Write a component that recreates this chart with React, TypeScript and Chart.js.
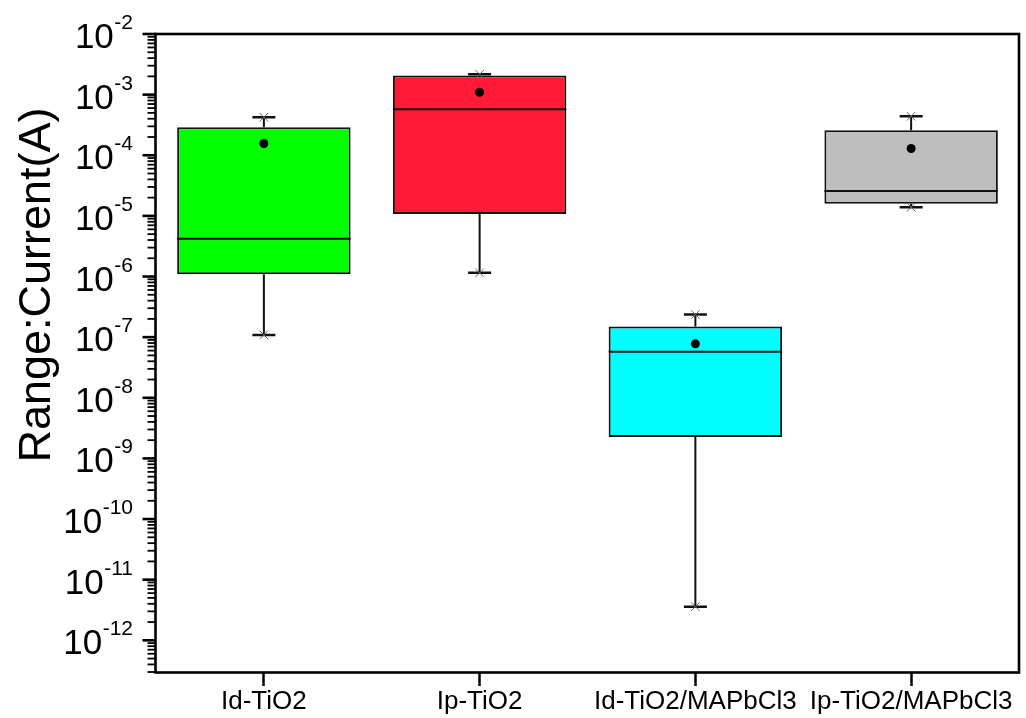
import React, { useEffect, useRef } from "react";
import { Chart, registerables } from "chart.js";

Chart.register(...registerables);

const categories = ["Id-TiO2", "Ip-TiO2", "Id-TiO2/MAPbCl3", "Ip-TiO2/MAPbCl3"];
const q1Values = [1.09e-6, 1.07e-5, 2.25e-9, 1.58e-5];
const q3Values = [2.9e-4, 2.06e-3, 1.5e-7, 2.59e-4];
const medianValues = [4.18e-6, 5.74e-4, 5.74e-8, 2.58e-5];
const meanValues = [1.56e-4, 1.09e-3, 7.76e-8, 1.29e-4];
const minValues = [1.09e-7, 1.15e-6, 3.59e-12, 1.39e-5];
const maxValues = [4.24e-4, 2.17e-3, 2.36e-7, 4.4e-4];
const boxColors = ["#00ff00", "#ff1a35", "#00ffff", "#bebebe"];
const yExponents = [-2, -3, -4, -5, -6, -7, -8, -9, -10, -11, -12];
const yTitle = "Range:Current(A)";

const FONT = "'Liberation Sans', Arial, Helvetica, sans-serif";

const boxPlugin = {
  id: "boxExtras",
  beforeDatasetsDraw(chart: any) {
    const ctx = chart.ctx;
    const xs = chart.scales.x;
    const ys = chart.scales.y;
    ctx.save();
    ctx.strokeStyle = "#111";
    ctx.lineCap = "butt";
    for (let i = 0; i < categories.length; i++) {
      const x = xs.getPixelForValue(i);
      const yMax = ys.getPixelForValue(maxValues[i]);
      const yMin = ys.getPixelForValue(minValues[i]);
      const yQ1 = ys.getPixelForValue(q1Values[i]);
      const yQ3 = ys.getPixelForValue(q3Values[i]);
      ctx.lineWidth = 2;
      ctx.beginPath();
      ctx.moveTo(x, yQ3);
      ctx.lineTo(x, yMax);
      ctx.moveTo(x, yQ1);
      ctx.lineTo(x, yMin);
      ctx.stroke();
      ctx.lineWidth = 2.5;
      ctx.beginPath();
      ctx.moveTo(x - 11.5, yMax);
      ctx.lineTo(x + 11.5, yMax);
      ctx.moveTo(x - 11.5, yMin);
      ctx.lineTo(x + 11.5, yMin);
      ctx.stroke();
    }
    ctx.restore();
  },
  afterDatasetDraw(chart: any, args: any) {
    if (args.index !== 0) return;
    const ctx = chart.ctx;
    const meta = chart.getDatasetMeta(0);
    const ys = chart.scales.y;
    ctx.save();
    ctx.strokeStyle = "#111";
    ctx.lineWidth = 2;
    meta.data.forEach((bar: any, i: number) => {
      const y = ys.getPixelForValue(medianValues[i]);
      ctx.beginPath();
      ctx.moveTo(bar.x - bar.width / 2, y);
      ctx.lineTo(bar.x + bar.width / 2, y);
      ctx.stroke();
    });
    ctx.restore();
  },
  afterDraw(chart: any) {
    const ctx = chart.ctx;
    const ys = chart.scales.y;
    const { left, right, top, bottom } = chart.chartArea;
    ctx.save();
    ctx.strokeStyle = "#000";
    ctx.lineWidth = 2.6;
    ctx.strokeRect(left - 0.5, top, right - left + 0.5, bottom - top + 0.5);
    const minV = ys.min;
    const maxV = ys.max;
    for (let e = -13; e <= -2; e++) {
      for (let k = 1; k <= 9; k++) {
        const v = k * Math.pow(10, e);
        if (v < minV * 0.999 || v > maxV * 1.001) continue;
        const y = ys.getPixelForValue(v);
        ctx.beginPath();
        if (k === 1) {
          ctx.lineWidth = 2.6;
          ctx.moveTo(left - 13.5, y);
        } else {
          ctx.lineWidth = 1.8;
          ctx.moveTo(left - 8.5, y);
        }
        ctx.lineTo(left, y);
        ctx.stroke();
      }
    }
    ctx.fillStyle = "#000";
    ctx.textBaseline = "alphabetic";
    const labelRight = 133;
    yExponents.forEach((exp) => {
      const y = ys.getPixelForValue(Math.pow(10, exp));
      const sup = String(exp);
      ctx.font = `21px ${FONT}`;
      const supW = ctx.measureText(sup).width;
      ctx.textAlign = "right";
      ctx.fillText(sup, labelRight, y - 5);
      ctx.font = `35px ${FONT}`;
      ctx.fillText("10", labelRight - supW - 0.5, y + 14);
    });
    ctx.save();
    ctx.translate(50, 285);
    ctx.rotate(-Math.PI / 2);
    ctx.font = `45px ${FONT}`;
    ctx.textAlign = "center";
    ctx.fillText(yTitle, 0, 0);
    ctx.restore();
    ctx.restore();
  },
};

export default function App() {
  const ref = useRef<HTMLCanvasElement | null>(null);
  useEffect(() => {
    if (!ref.current) return;
    const chart = new Chart(ref.current, {
      type: "bar",
      data: {
        labels: categories,
        datasets: [
          {
            type: "bar",
            data: categories.map((_, i) => [q1Values[i], q3Values[i]]) as any,
            backgroundColor: boxColors,
            borderColor: "#111",
            borderWidth: 2,
            borderSkipped: false,
            barPercentage: 0.804,
            categoryPercentage: 1,
            order: 3,
          } as any,
          {
            type: "line",
            data: maxValues,
            showLine: false,
            pointStyle: "crossRot",
            pointRadius: 6,
            borderColor: "#666",
            borderWidth: 1,
            order: 2,
          } as any,
          {
            type: "line",
            data: minValues,
            showLine: false,
            pointStyle: "crossRot",
            pointRadius: 6,
            borderColor: "#666",
            borderWidth: 1,
            order: 2,
          } as any,
          {
            type: "line",
            data: meanValues,
            showLine: false,
            pointStyle: "circle",
            pointRadius: 4.5,
            backgroundColor: "#000",
            borderWidth: 0,
            order: 1,
          } as any,
        ],
      },
      options: {
        animation: false,
        responsive: false,
        events: [],
        layout: { padding: { top: 34, right: 5, left: 0, bottom: 0 } },
        plugins: { legend: { display: false }, tooltip: { enabled: false } },
        scales: {
          x: {
            type: "category",
            offset: true,
            grid: {
              display: true,
              drawOnChartArea: false,
              drawTicks: true,
              tickLength: 14,
              tickWidth: 2.5,
              tickColor: "#000",
              offset: false,
            },
            border: { display: false },
            ticks: {
              font: { size: 26, family: FONT },
              color: "#000",
              padding: 0,
              maxRotation: 0,
              autoSkip: false,
            },
            afterFit: (s: any) => {
              s.height = 46;
            },
          },
          y: {
            type: "logarithmic",
            min: 3e-13,
            max: 1e-2,
            grid: { display: false },
            border: { display: false },
            ticks: { display: false },
            afterFit: (s: any) => {
              s.width = 156;
            },
          },
        },
      },
      plugins: [boxPlugin],
    });
    return () => chart.destroy();
  }, []);
  return (
    <div style={{ position: "fixed", left: 0, top: 0, width: 1026, height: 718, background: "#fff" }}>
      <canvas ref={ref} width={1026} height={718} />
    </div>
  );
}
